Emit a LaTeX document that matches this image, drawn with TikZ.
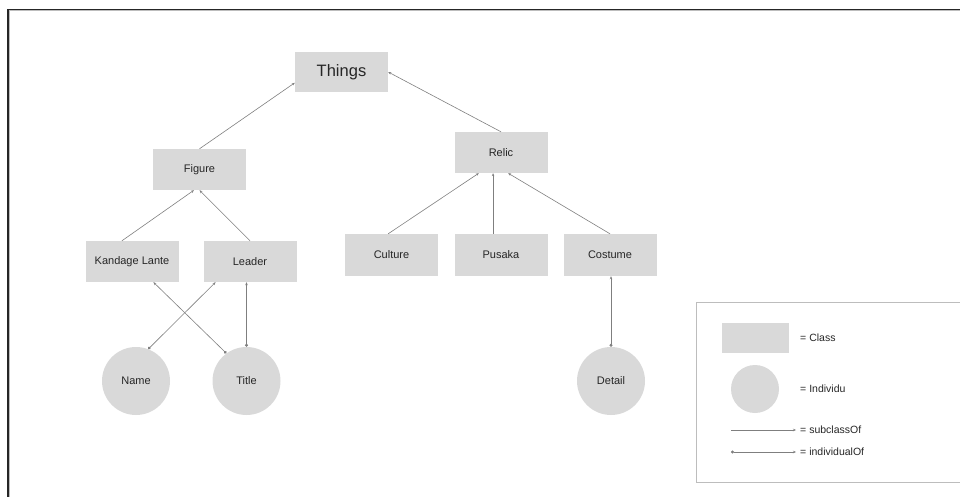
\documentclass[tikz,border=0pt]{standalone}
\usepackage{fontspec}
\setmainfont{Liberation Sans}
\usetikzlibrary{arrows.meta,positioning}
\definecolor{boxgray}{HTML}{D9D9D9}
\definecolor{linegray}{HTML}{7F7F7F}
\definecolor{framegray}{HTML}{BDBDBD}

\begin{document}
\begin{tikzpicture}[x=1pt,y=-1pt,
    every node/.style={font=\fontsize{11}{13}\selectfont,text=black!85},
    cls/.style={fill=boxgray,minimum width=93pt,minimum height=41pt,inner sep=0pt},
    ind/.style={circle,fill=boxgray,minimum size=68pt,inner sep=0pt},
    sub/.style={draw=linegray,line width=0.6pt,-{Stealth[length=3pt,width=2.5pt]}},
    inst/.style={sub,{Circle[length=3pt]}-{Stealth[length=3pt,width=2.5pt]}},
    legtext/.style={anchor=west,inner sep=0pt,font=\fontsize{10.5}{12}\selectfont}]
  \useasboundingbox (0,0) rectangle (960,497);
  % frame of the sheet
  \draw[framegray,line width=0.8pt] (960,10.8) -- (9.3,10.8) -- (9.3,497);
  \draw[black!85,line width=1.1pt] (960,9.3) -- (8,9.3) -- (8,497);

  % classes
  \node[cls,font=\fontsize{16.5}{19}\selectfont,minimum height=40pt] (thg) at (341.5,72) {Things};
  \node[cls] (fig) at (199.5,169.5) {Figure};
  \node[cls] (rel) at (501,152.5) {Relic};
  \node[cls] (kl) at (132,261.5) {Kandage Lante};
  \node[cls] (ldr) at (250,261.5) {Leader};
  \node[cls,minimum height=42pt] (cul) at (391.5,255) {Culture};
  \node[cls,minimum height=42pt] (pus) at (501,255) {Pusaka};
  \node[cls,minimum height=42pt] (cos) at (610,255) {Costume};

  % individuals
  \node[ind] (nm) at (136,381) {Name};
  \node[ind] (ttl) at (246.5,381) {Title};
  \node[ind] (det) at (611,381) {Detail};

  % subclassOf
  \draw[sub] (fig.north) -- (thg.193);
  \draw[sub] (rel.north) -- (thg.east);
  \draw[sub] (kl.116) -- (fig.255);
  \draw[sub] (ldr.north) -- (fig.south);
  \draw[sub] (cul.99) -- (rel.223);
  \draw[sub] (rel.249 |- pus.north) -- (rel.249);
  \draw[sub] (cos.north) -- (rel.289);

  % individualOf
  \draw[inst] (nm.69) -- (ldr.211);
  \draw[inst] (ttl.126) -- (kl.316);
  \draw[inst] (ttl.north) -- (ttl.north |- ldr.south);
  \draw[inst] (det.north) -- (det.north |- cos.south);

  % legend
  \draw[framegray,line width=1pt] (960,302) -- (696,302) -- (696,482.5) -- (960,482.5);
  \node[cls,minimum width=67pt,minimum height=30pt] (lcls) at (755.5,338) {};
  \node[ind,minimum size=48pt] (lind) at (755,389) {};
  \node[legtext] (lclst) at (800,338) {= Class};
  \node[legtext] (lindt) at (800,389) {= Individu};
  \node[legtext] (lsubt) at (800,430) {= subclassOf};
  \node[legtext] (linst) at (800,452) {= individualOf};
  \coordinate (lsub) at (731,430);
  \coordinate (lins) at (731,452);
  \draw[sub] (lsub) -- ([xshift=-4pt]lsubt.west);
  \draw[inst] (lins) -- ([xshift=-4pt]linst.west);
\end{tikzpicture}
\end{document}
